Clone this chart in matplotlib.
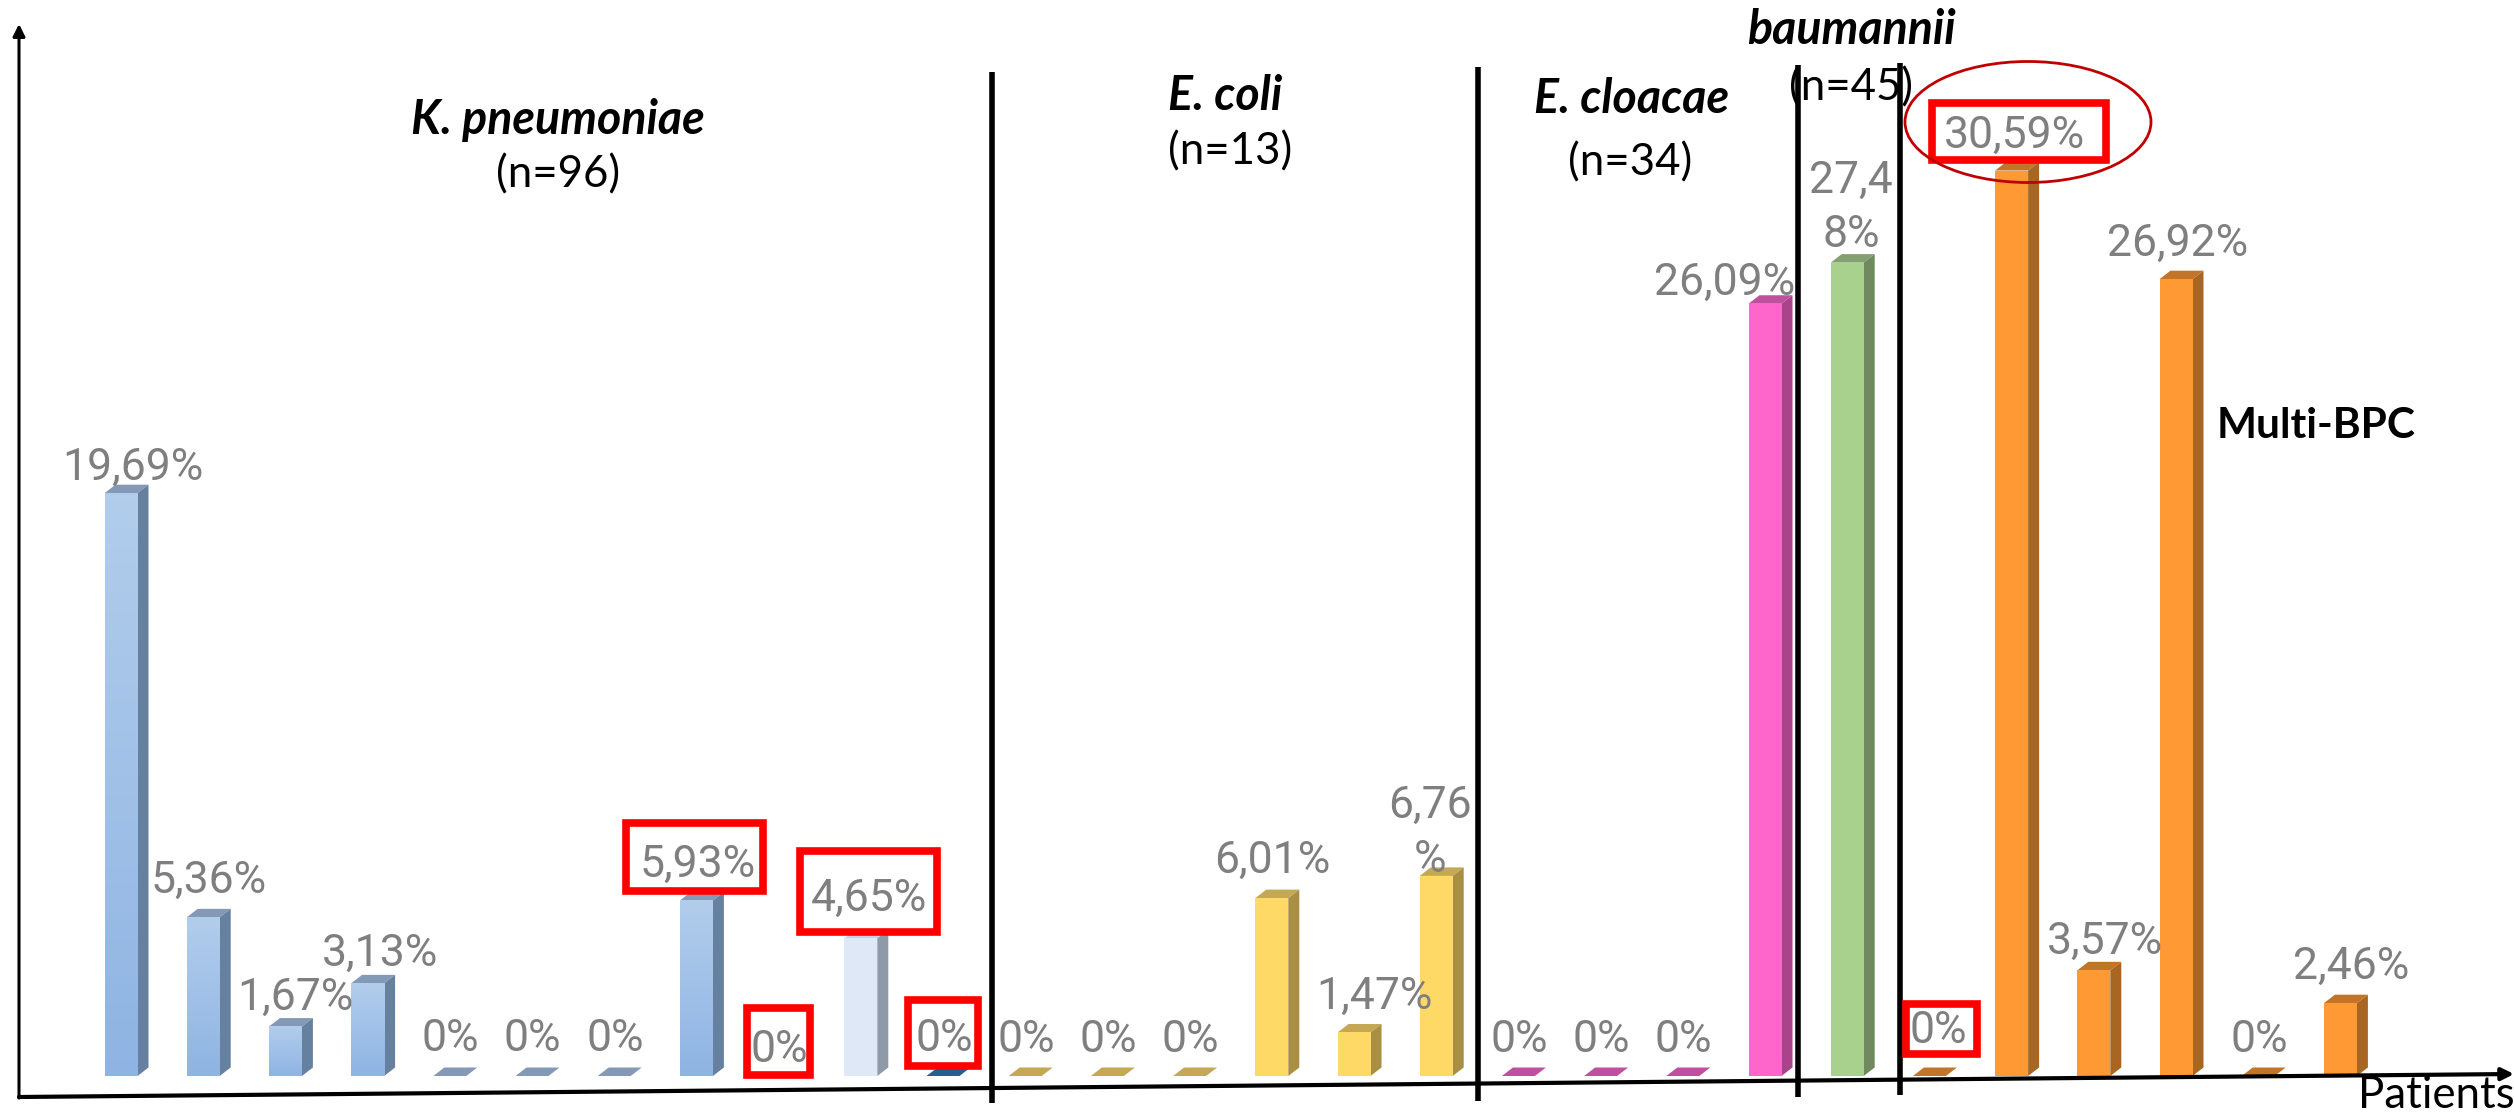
import numpy as np
import matplotlib
matplotlib.use("Agg")
import matplotlib.pyplot as plt
from matplotlib.patches import Polygon, Rectangle, Ellipse

W, H = 2514, 1114

# Share of patients per profile, left to right
values = [19.69, 5.36, 1.67, 3.13, 0, 0, 0, 5.93, 0, 4.65, 0,
          0, 0, 0, 6.01, 1.47, 6.76,
          0, 0, 0, 26.09,
          27.48,
          0, 30.59, 3.57, 26.92, 0, 2.46]
groups = ["kp"] * 11 + ["ec"] * 6 + ["ecl"] * 4 + ["ab"] + ["multi"] * 6

# front, side, top
palette = {
    "kp": ("#A3C2E8", "#66809F", "#8499B5"),
    "ec": ("#FFD966", "#A98F44", "#C4A853"),
    "ecl": ("#FF66CC", "#A9438A", "#C04F9F"),
    "ab": ("#A9D18E", "#71895E", "#85A070"),
    "multi": ("#FF9933", "#A86622", "#C27428"),
}
light_bar = 9
dark_bar = 10

# label centres in pixels
label_x = [133, 209, 295, 380, 450, 532, 615, 698, 779, 869, 944,
           1026, 1108, 1190, 1272, 1374, 1430,
           1519, 1601, 1683, 1725,
           1851,
           1938, 2014, 2105, 2178, 2259, 2351]
label_y = [468, 881, 998, 954, 1039, 1039, 1039, 865, 1050, 899, 1039,
           1040, 1040, 1040, 861, 997, 833,
           1040, 1040, 1040, 283,
           208,
           1031, 136, 942, 244, 1040, 967]

# wrapped labels in the narrow columns
wrapped = {16: "6,76\n%", 21: "27,4\n8%"}

red_boxes = [(626, 823, 137, 68), (747, 1008, 63, 67), (800, 851, 137, 81),
             (908, 1000, 70, 66), (1906, 1004, 71, 50), (1932, 103, 174, 57)]

separators = [(992, 72, 1103), (1478, 67, 1101), (1798, 65, 1097), (1900, 63, 1095)]

species = [("K. pneumoniae", 558, 120), ("E. coli", 1225, 96),
           ("E. cloacae", 1632, 99), ("baumannii", 1851, 30)]
counts = [("(n=96)", 558, 175), ("(n=13)", 1230, 152),
          ("(n=34)", 1630, 163), ("(n=45)", 1851, 88)]

px_per_bar = 82.2
px_per_pct = 29.6
bar_w = 33 / px_per_bar
side_w = 11 / px_per_bar
top_h = 8.5 / px_per_pct
x0_px = 121
base_px = 1076

FONT = "Lato"
LABEL_FONT = "Roboto"
GREY = "#7F7F7F"

fig = plt.figure(figsize=(W / 100, H / 100), dpi=100, facecolor="white")

ax = fig.add_axes([0, 0, 1, 1])
ax.axis("off")

for i, v in enumerate(values):
    front, side, top = palette[groups[i]]
    if i == light_bar:
        front, side, top = "#DEE8F7", "#8E9AA8", "#C8D2DE"
    if i == dark_bar:
        top = "#255E91"
    l = i - bar_w / 2
    r = i + bar_w / 2
    ax.add_patch(Polygon([(l, v), (r, v), (r + side_w, v + top_h), (l + side_w, v + top_h)],
                         facecolor=top, edgecolor="none", zorder=2))
    if v == 0:
        continue
    ax.add_patch(Polygon([(r, 0), (r + side_w, top_h), (r + side_w, v + top_h), (r, v)],
                         facecolor=side, edgecolor="none", zorder=2))
    if groups[i] == "kp" and i != light_bar:
        # blue bars fade from light at the top to darker at the base
        grad = np.linspace(0, 1, 64).reshape(-1, 1)
        cmap = matplotlib.colors.LinearSegmentedColormap.from_list("b", ["#B2CDEC", "#8FB4E3"])
        ax.imshow(grad, cmap=cmap, extent=(l, r, 0, v), origin="upper", aspect="auto", zorder=2)
    else:
        ax.bar(i, v, width=bar_w, color=front, zorder=2)

ax.set_xlim(-x0_px / px_per_bar, (W - x0_px) / px_per_bar)
ax.set_ylim(-(H - base_px) / px_per_pct, base_px / px_per_pct)

# everything annotated on top is placed in pixels
ov = fig.add_axes([0, 0, 1, 1], facecolor="none")
ov.set_xlim(0, W)
ov.set_ylim(H, 0)
ov.axis("off")

ov.annotate("", xy=(19, 24), xytext=(19, 1098),
            arrowprops=dict(arrowstyle="-|>", color="black", lw=2.2, shrinkA=0, shrinkB=0, mutation_scale=18))
ov.annotate("", xy=(2514, 1074), xytext=(19, 1097),
            arrowprops=dict(arrowstyle="-|>", color="black", lw=3, shrinkA=0, shrinkB=0, mutation_scale=18))

for x, y0, y1 in separators:
    ov.plot([x, x], [y0, y1], color="black", lw=4, solid_capstyle="butt", zorder=3)

for x, y, w, h in red_boxes:
    ov.add_patch(Rectangle((x, y), w, h, facecolor="white", edgecolor="#FF0000", lw=5.5, zorder=4))

ov.add_patch(Ellipse((2028, 122), 246, 121, facecolor="none", edgecolor="#C00000", lw=2, zorder=5))

for i, v in enumerate(values):
    if v == 0:
        txt = "0%"
    else:
        txt = f"{v:.2f}".replace(".", ",") + "%"
    txt = wrapped.get(i, txt)
    ov.text(label_x[i], label_y[i], txt, ha="center", va="center", color=GREY,
            fontsize=32, family=LABEL_FONT, linespacing=1.35, zorder=6)

for name, x, y in species:
    ov.text(x, y, name, ha="center", va="center", fontsize=33.5, family=FONT,
            style="italic", weight="bold", color="black", zorder=6)
for name, x, y in counts:
    ov.text(x, y, name, ha="center", va="center", fontsize=31.5, family=FONT, color="black", zorder=6)

ov.text(2316, 426, "Multi-BPC", ha="center", va="center", fontsize=30.5, family=FONT,
        weight="bold", color="black", zorder=6)
ov.text(2436, 1096, "Patients", ha="center", va="center", fontsize=31.5, family=FONT, color="black", zorder=6)

fig.savefig("out.png", dpi=100)
